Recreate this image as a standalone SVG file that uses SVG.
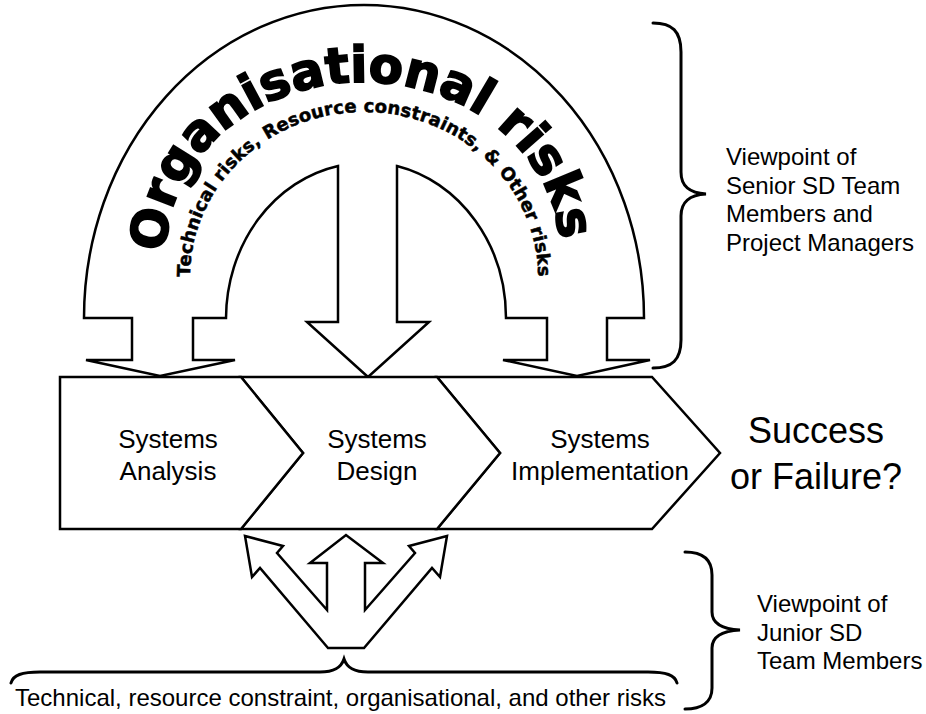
<svg xmlns="http://www.w3.org/2000/svg" width="926" height="714" viewBox="0 0 926 714">
<style>
.shape{fill:#fff;stroke:#000;stroke-width:2.5;stroke-linejoin:miter}
.brace{fill:none;stroke:#000;stroke-width:3;stroke-linecap:round}
.lbl{font-family:"Liberation Sans",Arial,sans-serif;fill:#000}
.big{font-family:"DejaVu Sans","Liberation Sans",sans-serif;font-weight:bold;fill:#000;stroke:#000;stroke-width:1.8}
.small{font-family:"DejaVu Sans","Liberation Sans",sans-serif;font-weight:bold;fill:#000;stroke:#000;stroke-width:0.5}
</style>
<defs>
<path id="bigArc" d="M166,252 A197,170 0 0 1 560,252"/>
<path id="smallArc" d="M190,277 A174,165 0 0 1 538,277"/>
</defs>
<rect width="926" height="714" fill="#fff"/>
<g id="risk-arch">
<path class="shape" d="M84,318 A280,313 0 0 1 644,318 L607,318 L607,360 L650,360 L577,376 L503,360 L547,360 L547,318 L506,318 A140,156 0 0 0 397,166 L397,322 L429,322 L368,377 L307,322 L338,322 L338,166 A140,156 0 0 0 226,318 L193,318 L193,360 L235,360 L160,376 L86,360 L132,360 L132,318 Z"/>
<text class="big" font-size="50"><textPath href="#bigArc" textLength="565" lengthAdjust="spacing">Organisational risks</textPath></text>
<text class="small" font-size="18"><textPath href="#smallArc" textLength="532" lengthAdjust="spacing">Technical risks, Resource constraints, &amp; Other risks</textPath></text>
</g>
<g id="systems-implementation">
<polygon class="shape" points="437,377 652,377 720,453 652,529 437,529 500,453"/>
<text class="lbl" font-size="26" text-anchor="middle"><tspan x="600" y="448">Systems</tspan><tspan x="600" y="480">Implementation</tspan></text>
</g>
<g id="systems-design">
<polygon class="shape" points="241,377 437,377 500,453 437,529 241,529 303,453"/>
<text class="lbl" font-size="26" text-anchor="middle"><tspan x="377" y="448">Systems</tspan><tspan x="377" y="480">Design</tspan></text>
</g>
<g id="systems-analysis">
<polygon class="shape" points="60,377 241,377 303,453 241,529 60,529"/>
<text class="lbl" font-size="26" text-anchor="middle"><tspan x="168" y="448">Systems</tspan><tspan x="168" y="480">Analysis</tspan></text>
</g>
<g id="outcome">
<text class="lbl" font-size="36" text-anchor="middle"><tspan x="816" y="443">Success</tspan><tspan x="816" y="489">or Failure?</tspan></text>
</g>
<g id="bottom-risks">
<polygon class="shape" points="328,648 260,568 252,577 245,536 283,546 277,553 327,610 327,563 310,563 346,535 383,563 365,563 365,610 415,553 409,546 447,536 440,577 432,568 364,648"/>
<text class="lbl" font-size="24" x="15" y="706">Technical, resource constraint, organisational, and other risks</text>
</g>
<g id="senior-viewpoint">
<text class="lbl" font-size="24"><tspan x="726" y="165">Viewpoint of</tspan><tspan x="726" y="194">Senior SD Team</tspan><tspan x="726" y="222">Members and</tspan><tspan x="726" y="251">Project Managers</tspan></text>
</g>
<g id="junior-viewpoint">
<text class="lbl" font-size="24"><tspan x="757" y="612">Viewpoint of</tspan><tspan x="757" y="641">Junior SD</tspan><tspan x="757" y="669">Team Members</tspan></text>
</g>
<g id="connectors">
<path class="brace" d="M653,23 C672,23 681,31 681,52 L681,172 C681,187 690,193 706,194 C690,195 681,201 681,216 L681,340 C681,360 672,368 653,368"/>
<path class="brace" d="M685,552 C702,552 712,559 712,575 L712,612 C712,624 722,629 740,630 C722,631 712,636 712,648 L712,688 C712,702 702,709 685,709"/>
<path class="brace" d="M11,683 C13,675 22,672 40,672 L320,672 C334,672 341,668 344,659 C347,668 354,672 368,672 L648,672 C666,672 675,675 677,683"/>
</g>
</svg>
